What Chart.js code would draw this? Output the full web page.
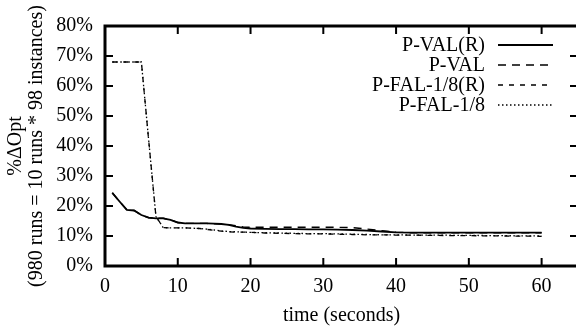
<!DOCTYPE html>
<html>
<head>
<meta charset="utf-8">
<script src="https://cdn.jsdelivr.net/npm/chart.js@4/dist/chart.umd.min.js"></script>
<style>
  html, body { margin: 0; padding: 0; background: #fff; overflow: hidden; }
  canvas { display: block; }
</style>
</head>
<body>
<canvas id="myChart" width="580" height="330"></canvas>
<script>
// sample times (seconds)
var seconds = [1, 2, 3, 4, 5, 6, 7, 8, 9, 10, 11, 12, 13, 14, 15, 16, 17, 18, 19, 20,
               22, 24, 26, 28, 30, 32, 34, 36, 38, 40, 42, 45, 50, 55, 60];

// %ΔOpt per series
var pValR =   [24.4, 21.5, 18.7, 18.5, 17.0, 16.1, 15.9, 15.9, 15.4, 14.5, 14.2, 14.2, 14.2, 14.2, 14.1, 14.0, 13.7, 13.1, 12.7, 12.5,
               12.4, 12.3, 12.3, 12.2, 12.2, 12.1, 12.0, 11.8, 11.5, 11.2, 11.1, 11.1, 11.1, 11.1, 11.1];
var pVal =    [24.4, 21.5, 18.7, 18.5, 17.0, 16.1, 15.9, 15.9, 15.4, 14.5, 14.2, 14.2, 14.2, 14.2, 14.1, 14.0, 13.8, 13.4, 13.0, 12.9,
               12.9, 12.9, 12.9, 12.9, 12.9, 12.9, 12.8, 12.3, 11.8, 11.3, 11.1, 11.1, 11.1, 11.1, 11.1];
var pFalR =   [68.0, 68.0, 68.0, 68.0, 68.0, 42.0, 16.5, 12.8, 12.7, 12.7, 12.7, 12.6, 12.5, 12.2, 11.9, 11.6, 11.4, 11.3, 11.3, 11.2,
               11.0, 10.9, 10.8, 10.7, 10.7, 10.6, 10.5, 10.4, 10.4, 10.3, 10.3, 10.2, 10.1, 10.0, 9.9];
var pFal =    [68.0, 68.0, 68.0, 68.0, 68.0, 42.0, 16.5, 12.8, 12.7, 12.7, 12.7, 12.6, 12.5, 12.3, 12.0, 11.7, 11.5, 11.4, 11.3, 11.2,
               11.1, 11.0, 10.9, 10.8, 10.8, 10.7, 10.6, 10.5, 10.4, 10.4, 10.3, 10.3, 10.2, 10.1, 10.0];

var seriesNames = ['P-VAL(R)', 'P-VAL', 'P-FAL-1/8(R)', 'P-FAL-1/8'];
var xTicks = [0, 10, 20, 30, 40, 50, 60];
var yTicks = [0, 10, 20, 30, 40, 50, 60, 70, 80];
var yTitle = ['%ΔOpt', '(980 runs = 10 runs * 98 instances)'];
var xTitle = 'time (seconds)';

var serif = 'Liberation Serif';

function pts(ys) {
    return ys.map(function (y, i) { return {x: seconds[i], y: y}; });
}

var styles = [
    {dash: [], width: 1.8},
    {dash: [8, 6], width: 1.4},
    {dash: [5, 6], width: 1.3},
    {dash: [1.5, 2.5], width: 1.3}
];

var datasets = [pValR, pVal, pFalR, pFal].map(function (ys, i) {
    return {
        label: seriesNames[i],
        data: pts(ys),
        borderColor: '#000',
        borderWidth: styles[i].width,
        borderDash: styles[i].dash,
        pointRadius: 0,
        tension: 0,
        fill: false
    };
});

// gnuplot-like frame with inward ticks on all sides
var framePlugin = {
    id: 'frame',
    afterDatasetsDraw: function (chart) {
        var ctx = chart.ctx, a = chart.chartArea;
        var xs = chart.scales.x, ys = chart.scales.y;
        ctx.save();
        ctx.strokeStyle = '#000';
        ctx.setLineDash([]);
        ctx.lineWidth = 2;
        xTicks.forEach(function (v) {
            var px = xs.getPixelForValue(v);
            ctx.beginPath();
            ctx.moveTo(px, a.bottom); ctx.lineTo(px, a.bottom - 8);
            ctx.moveTo(px, a.top); ctx.lineTo(px, a.top + 8);
            ctx.stroke();
        });
        yTicks.forEach(function (v) {
            var py = ys.getPixelForValue(v);
            ctx.beginPath();
            ctx.moveTo(a.left, py); ctx.lineTo(a.left + 8, py);
            ctx.moveTo(a.right, py); ctx.lineTo(a.right - 8, py);
            ctx.stroke();
        });
        ctx.lineWidth = 3;
        ctx.strokeRect(a.left, a.top, a.right - a.left, a.bottom - a.top);

        // key, top right
        ctx.font = '20px "' + serif + '"';
        ctx.fillStyle = '#000';
        ctx.textAlign = 'right';
        ctx.textBaseline = 'middle';
        chart.data.datasets.forEach(function (ds, i) {
            var y = 45 + i * 20;
            ctx.fillText(ds.label, 485, y + 1);
            ctx.beginPath();
            ctx.lineWidth = ds.borderWidth;
            ctx.setLineDash(ds.borderDash);
            ctx.moveTo(498, y);
            ctx.lineTo(553, y);
            ctx.stroke();
        });
        ctx.restore();
    }
};

var context = document.getElementById('myChart').getContext('2d');

var myChart = new Chart(context, {
    type: 'line',
    data: {datasets: datasets},
    options: {
        responsive: false,
        animation: false,
        devicePixelRatio: 1,
        layout: {padding: {top: 26, right: 2, bottom: 0, left: 0}},
        plugins: {
            legend: {display: false},
            tooltip: {enabled: false}
        },
        scales: {
            x: {
                type: 'linear',
                min: 0,
                max: 65,
                grid: {display: false, drawTicks: false},
                border: {display: false},
                ticks: {
                    stepSize: 10,
                    includeBounds: false,
                    color: '#000',
                    padding: 9,
                    maxRotation: 0,
                    font: {family: serif, size: 20}
                },
                title: {
                    display: true,
                    text: xTitle,
                    color: '#000',
                    padding: {top: 0, bottom: 4},
                    font: {family: serif, size: 20, lineHeight: 1.05}
                },
                afterFit: function (scale) { scale.height = 64; }
            },
            y: {
                min: 0,
                max: 80,
                grid: {display: false, drawTicks: false},
                border: {display: false},
                ticks: {
                    stepSize: 10,
                    color: '#000',
                    padding: 12,
                    font: {family: serif, size: 20},
                    callback: function (v) { return v + '%'; }
                },
                title: {
                    display: true,
                    text: yTitle,
                    color: '#000',
                    padding: {top: 5, bottom: 0},
                    font: {family: serif, size: 20, lineHeight: 1.05}
                },
                afterFit: function (scale) { scale.width = 105; }
            }
        }
    },
    plugins: [framePlugin]
});
</script>
</body>
</html>
